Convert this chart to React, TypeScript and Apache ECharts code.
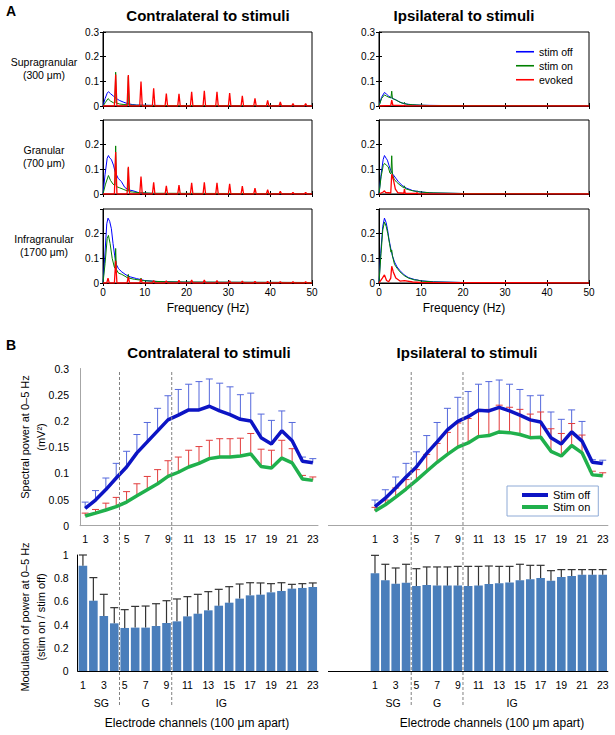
import React, { useEffect, useRef } from 'react';
import * as echarts from 'echarts';

const FONT = '"Liberation Sans", Arial, sans-serif';

// ---------- Panel A: spectra (Hz, power mV^2) ----------
const rowLabels = ['Supragranular\n(300 μm)', 'Granular\n(700 μm)', 'Infragranular\n(1700 μm)'];
const sideTitles = ['Contralateral to stimuli', 'Ipsilateral to stimuli'];
const legendA = ['stim off', 'stim on', 'evoked'];

// contralateral supragranular
const cSupraOff = [[0, 0], [0.5, 0.03], [1, 0.052], [1.3, 0.058], [1.8, 0.05], [2.5, 0.04], [3, 0.033], [3.5, 0.027], [4, 0.022], [5, 0.015], [6, 0.009], [7, 0.006], [8, 0.004], [10, 0.003], [15, 0.002], [50, 0.001]];
const cSupraOn = [[0, 0], [0.6, 0.015], [1.2, 0.03], [1.8, 0.02], [2.5, 0.013], [2.85, 0.012], [3.03, 0.137], [3.2, 0.012], [4, 0.008], [5, 0.006], [5.9, 0.005], [6.06, 0.12], [6.2, 0.004], [8, 0.003], [12, 0.002], [50, 0.001]];
const cSupraEvoked = [[3.03, 0.128], [6.06, 0.126], [9.09, 0.099], [12.12, 0.072], [15.15, 0.05], [18.18, 0.049], [21.21, 0.058], [24.24, 0.062], [27.27, 0.058], [30.3, 0.052], [33.33, 0.041], [36.36, 0.031], [39.39, 0.023], [42.42, 0.016], [45.45, 0.01], [48.48, 0.01]];
// contralateral granular
const cGranOff = [[0, 0], [0.5, 0.08], [1, 0.145], [1.3, 0.156], [1.6, 0.146], [2, 0.14], [2.5, 0.117], [2.9, 0.09], [3.6, 0.064], [4.4, 0.05], [5.2, 0.027], [6, 0.017], [7.2, 0.013], [8.8, 0.004], [12, 0.002], [50, 0.001]];
const cGranOn = [[0, 0], [0.6, 0.04], [1.3, 0.075], [1.8, 0.055], [2.4, 0.04], [2.85, 0.035], [3.03, 0.195], [3.2, 0.03], [4, 0.025], [5, 0.018], [5.9, 0.012], [6.06, 0.105], [6.2, 0.01], [7, 0.008], [9, 0.005], [12, 0.003], [50, 0.001]];
const cGranEvoked = [[3.03, 0.17], [6.06, 0.11], [9.09, 0.071], [12.12, 0.047], [15.15, 0.033], [18.18, 0.036], [21.21, 0.045], [24.24, 0.047], [27.27, 0.045], [30.3, 0.041], [33.33, 0.032], [36.36, 0.024], [39.39, 0.017], [42.42, 0.011], [45.45, 0.007], [48.48, 0.007]];
// contralateral infragranular
const cInfraOff = [[0, 0], [0.4, 0.1], [0.9, 0.24], [1.2, 0.263], [1.6, 0.25], [2, 0.22], [2.4, 0.16], [2.8, 0.11], [3.2, 0.075], [3.7, 0.058], [4.5, 0.045], [5.5, 0.033], [6.5, 0.025], [8, 0.018], [10, 0.01], [13, 0.006], [20, 0.003], [50, 0.002]];
const cInfraOn = [[0, 0], [0.5, 0.08], [1, 0.18], [1.3, 0.193], [1.7, 0.16], [2.2, 0.1], [2.7, 0.065], [2.85, 0.06], [3.03, 0.14], [3.2, 0.055], [3.7, 0.04], [4.5, 0.035], [5.5, 0.025], [5.9, 0.02], [6.06, 0.035], [6.2, 0.02], [7.5, 0.015], [8.9, 0.012], [9.09, 0.02], [9.3, 0.01], [12, 0.007], [15, 0.005], [20, 0.004], [50, 0.002]];
const cInfraEvoked = [[1.2, 0.02], [3.03, 0.09], [6.06, 0.025], [9.09, 0.016], [12.12, 0.01], [15.15, 0.009], [18.18, 0.011], [21.21, 0.012], [24.24, 0.012], [27.27, 0.01], [30.3, 0.009], [33.33, 0.008], [36.36, 0.007], [39.39, 0.006], [42.42, 0.005], [45.45, 0.005], [48.48, 0.005]];
// ipsilateral supragranular
const iSupraOff = [[0, 0], [0.6, 0.035], [1.3, 0.055], [1.8, 0.048], [2.3, 0.04], [3, 0.033], [3.5, 0.029], [4.5, 0.02], [5.5, 0.012], [6.5, 0.008], [8, 0.005], [10, 0.003], [15, 0.002], [50, 0.001]];
const iSupraOn = [[0, 0], [0.6, 0.03], [1.3, 0.045], [1.8, 0.04], [2.4, 0.035], [2.85, 0.033], [3.03, 0.06], [3.2, 0.03], [4, 0.025], [5, 0.015], [5.9, 0.01], [6.06, 0.015], [6.2, 0.009], [7, 0.006], [9, 0.004], [12, 0.002], [50, 0.001]];
const iSupraEvoked = [[0, 0], [2.8, 0.002], [3.03, 0.024], [3.3, 0.003], [5.9, 0.001], [6.06, 0.005], [6.2, 0.001], [50, 0]];
// ipsilateral granular
const iGranOff = [[0, 0], [0.5, 0.08], [1, 0.14], [1.3, 0.156], [1.7, 0.145], [2, 0.137], [2.4, 0.115], [2.8, 0.095], [3.3, 0.08], [4, 0.064], [4.6, 0.05], [5.5, 0.035], [6.5, 0.024], [8, 0.014], [10, 0.008], [13, 0.004], [20, 0.002], [50, 0.001]];
const iGranOn = [[0, 0], [0.5, 0.07], [1, 0.115], [1.3, 0.124], [1.7, 0.118], [2.2, 0.11], [2.6, 0.085], [2.85, 0.082], [3.03, 0.155], [3.2, 0.08], [3.6, 0.06], [4.2, 0.048], [5, 0.036], [5.9, 0.025], [6.06, 0.033], [6.2, 0.022], [7.5, 0.015], [8.9, 0.01], [9.09, 0.013], [9.3, 0.009], [12, 0.005], [20, 0.002], [50, 0.001]];
const iGranEvoked = [[0, 0], [1, 0.008], [1.3, 0.013], [1.6, 0.006], [2.8, 0.004], [3.03, 0.08], [3.4, 0.06], [3.9, 0.02], [4.5, 0.005], [5.9, 0.003], [6.06, 0.02], [6.25, 0.002], [8.9, 0.002], [9.09, 0.006], [9.3, 0.001], [50, 0]];
// ipsilateral infragranular
const iInfraOff = [[0, 0], [0.4, 0.12], [0.9, 0.23], [1.3, 0.263], [1.7, 0.245], [2, 0.22], [2.4, 0.175], [2.8, 0.14], [3.2, 0.11], [3.7, 0.085], [4.3, 0.065], [5, 0.05], [6, 0.033], [7, 0.022], [8.5, 0.014], [10, 0.009], [13, 0.005], [20, 0.002], [50, 0.001]];
const iInfraOn = [[0, 0], [0.4, 0.1], [0.9, 0.215], [1.3, 0.247], [1.7, 0.23], [2.1, 0.2], [2.5, 0.16], [2.85, 0.125], [3.03, 0.134], [3.2, 0.11], [3.7, 0.075], [4.3, 0.06], [5, 0.045], [6, 0.03], [7, 0.02], [8.5, 0.012], [9.09, 0.012], [10, 0.008], [13, 0.004], [20, 0.002], [50, 0.001]];
const iInfraEvoked = [[0, 0], [0.8, 0.02], [1.3, 0.033], [1.8, 0.01], [2.3, 0.005], [2.8, 0.02], [3.03, 0.068], [3.4, 0.045], [4, 0.02], [5, 0.008], [6.06, 0.01], [8, 0.004], [10, 0.002], [50, 0]];

// ---------- Panel B ----------
const channels = [1, 2, 3, 4, 5, 6, 7, 8, 9, 10, 11, 12, 13, 14, 15, 16, 17, 18, 19, 20, 21, 22, 23];
const channelTicks = [1, 3, 5, 7, 9, 11, 13, 15, 17, 19, 21, 23];
const sectionNames = ['SG', 'G', 'IG'];
const sectionCenters = [2.75, 7, 14.25];
const sectionBounds = [4.5, 9.5];
const legendB = ['Stim off', 'Stim on'];

const contraPowerOff = [0.033, 0.049, 0.069, 0.091, 0.112, 0.139, 0.16, 0.181, 0.202, 0.211, 0.221, 0.221, 0.228, 0.219, 0.212, 0.203, 0.2, 0.168, 0.156, 0.181, 0.162, 0.123, 0.12];
const contraPowerOffErr = [0.045, 0.067, 0.091, 0.119, 0.142, 0.174, 0.197, 0.224, 0.248, 0.26, 0.27, 0.275, 0.28, 0.272, 0.265, 0.25, 0.253, 0.213, 0.201, 0.219, 0.197, 0.131, 0.128];
const contraPowerOn = [0.0186, 0.024, 0.03, 0.0365, 0.045, 0.057, 0.0686, 0.08, 0.094, 0.102, 0.112, 0.119, 0.128, 0.131, 0.131, 0.133, 0.137, 0.113, 0.11, 0.129, 0.12, 0.089, 0.0865];
const contraPowerOnErr = [0.024, 0.031, 0.043, 0.054, 0.065, 0.08, 0.094, 0.107, 0.124, 0.131, 0.144, 0.151, 0.163, 0.166, 0.166, 0.167, 0.176, 0.146, 0.144, 0.163, 0.147, 0.096, 0.093];
const ipsiPowerOff = [0.0365, 0.0526, 0.072, 0.093, 0.112, 0.138, 0.16, 0.183, 0.199, 0.208, 0.2205, 0.219, 0.226, 0.219, 0.211, 0.202, 0.198, 0.168, 0.156, 0.179, 0.1615, 0.121, 0.1186];
const ipsiPowerOffErr = [0.049, 0.0686, 0.093, 0.119, 0.141, 0.172, 0.197, 0.224, 0.245, 0.256, 0.27, 0.275, 0.278, 0.27, 0.26, 0.248, 0.249, 0.217, 0.203, 0.221, 0.199, 0.126, 0.125];
const ipsiPowerOn = [0.028, 0.04, 0.0545, 0.07, 0.0865, 0.104, 0.121, 0.136, 0.15, 0.158, 0.17, 0.172, 0.179, 0.1776, 0.174, 0.168, 0.169, 0.142, 0.133, 0.153, 0.139, 0.097, 0.0955];
const ipsiPowerOnErr = [0.035, 0.049, 0.072, 0.088, 0.107, 0.136, 0.157, 0.178, 0.196, 0.2045, 0.219, 0.222, 0.23, 0.226, 0.222, 0.213, 0.217, 0.185, 0.176, 0.195, 0.173, 0.104, 0.101];
const contraMod = [0.908, 0.606, 0.474, 0.411, 0.371, 0.374, 0.374, 0.388, 0.414, 0.428, 0.471, 0.494, 0.523, 0.563, 0.589, 0.624, 0.652, 0.658, 0.678, 0.69, 0.71, 0.716, 0.724];
const contraModErr = [1.0, 0.805, 0.661, 0.546, 0.529, 0.557, 0.56, 0.58, 0.606, 0.621, 0.641, 0.661, 0.684, 0.704, 0.727, 0.75, 0.761, 0.759, 0.753, 0.761, 0.747, 0.753, 0.759];
const ipsiMod = [0.842, 0.782, 0.753, 0.761, 0.733, 0.741, 0.736, 0.736, 0.736, 0.733, 0.736, 0.75, 0.756, 0.764, 0.782, 0.79, 0.802, 0.779, 0.81, 0.819, 0.83, 0.83, 0.83];
const ipsiModErr = [0.997, 0.92, 0.888, 0.92, 0.882, 0.897, 0.897, 0.897, 0.902, 0.902, 0.902, 0.905, 0.902, 0.902, 0.92, 0.911, 0.911, 0.865, 0.874, 0.874, 0.874, 0.874, 0.874];

const SPIKE_HALF = 0.3;
function spikeLine(peaks: number[][]) {
  const out: number[][] = [[0, 0]];
  peaks.forEach(([f, h]) => { out.push([f - SPIKE_HALF, 0], [f, h], [f + SPIKE_HALF, 0]); });
  out.push([50, 0]);
  return out;
}

function errRender(color: string, capHalf: number, width: number) {
  return (params: any, api: any) => {
    const x = api.value(0);
    const p0 = api.coord([x, api.value(1)]);
    const p1 = api.coord([x, api.value(2)]);
    return {
      type: 'group',
      children: [
        { type: 'line', shape: { x1: p0[0], y1: p0[1], x2: p1[0], y2: p1[1] }, style: { stroke: color, lineWidth: width } },
        { type: 'line', shape: { x1: p1[0] - capHalf, y1: p1[1], x2: p1[0] + capHalf, y2: p1[1] }, style: { stroke: color, lineWidth: width } },
      ],
    };
  };
}

export default function App() {
  const ref = useRef<HTMLDivElement>(null);
  useEffect(() => {
    const chart = echarts.init(ref.current!, null, { renderer: 'svg' });
    const grids: any[] = [];
    const xAxis: any[] = [];
    const yAxis: any[] = [];
    const series: any[] = [];
    const txt = { color: '#000', fontFamily: FONT };

    // ----- Panel A -----
    const spectra = [
      [[cSupraOff, cSupraOn, spikeLine(cSupraEvoked)], [iSupraOff, iSupraOn, iSupraEvoked]],
      [[cGranOff, cGranOn, spikeLine(cGranEvoked)], [iGranOff, iGranOn, iGranEvoked]],
      [[cInfraOff, cInfraOn, spikeLine(cInfraEvoked)], [iInfraOff, iInfraOn, iInfraEvoked]],
    ];
    const aLeft = [103, 379];
    const aWidth = [209, 210];
    const aTop = [32, 120, 209];
    const aH = 74;
    const aColors = ['#0000ff', '#008000', '#ff0000'];
    for (let r = 0; r < 3; r++) {
      for (let c = 0; c < 2; c++) {
        const g = grids.length;
        grids.push({ left: aLeft[c], top: aTop[r], width: aWidth[c], height: aH, show: true, borderColor: '#000', borderWidth: 1, backgroundColor: 'transparent', containLabel: false, outerBoundsMode: 'none' });
        const xi = xAxis.length;
        const yi = yAxis.length;
        const common = { type: 'value', gridIndex: g, splitLine: { show: false } };
        xAxis.push({ ...common, min: 0, max: 50, interval: 10, position: 'bottom', axisLine: { show: true, lineStyle: { color: '#000' } }, axisTick: { inside: true, length: 3, lineStyle: { color: '#000' } }, axisLabel: { show: r === 2, fontSize: 10, margin: 4, ...txt } });
        xAxis.push({ ...common, min: 0, max: 50, interval: 10, position: 'top', axisLine: { show: false }, axisTick: { inside: true, length: 3, lineStyle: { color: '#000' } }, axisLabel: { show: false } });
        yAxis.push({ ...common, min: 0, max: 0.3, interval: 0.1, position: 'left', axisLine: { show: true, lineStyle: { color: '#000' } }, axisTick: { inside: true, length: 3, lineStyle: { color: '#000' } }, axisLabel: { show: true, showMaxLabel: r === 0, fontSize: 10, margin: 4, ...txt } });
        yAxis.push({ ...common, min: 0, max: 0.3, interval: 0.1, position: 'right', axisLine: { show: false }, axisTick: { inside: true, length: 3, lineStyle: { color: '#000' } }, axisLabel: { show: false } });
        spectra[r][c].forEach((d, k) => {
          series.push({
            type: 'line', name: legendA[k], xAxisIndex: xi, yAxisIndex: yi, data: d, showSymbol: false, symbol: 'none',
            color: aColors[k], lineStyle: { color: aColors[k], width: k === 2 ? 1.3 : 1 }, z: 2 + k, silent: true,
          });
        });
      }
    }

    // ----- Panel B -----
    const bGrid = [
      { left: 80, top: 368.5, width: 238, height: 157.2, min: 0.5 },
      { left: 328.4, top: 368.5, width: 279.5, height: 157.2, min: -3.5 },
      { left: 77.7, top: 555, width: 240.3, height: 116, min: 0.5 },
      { left: 328.4, top: 555, width: 279.5, height: 116, min: -3.5 },
    ];
    const bX: number[] = [];
    const bY: number[] = [];
    bGrid.forEach((gg, i) => {
      const g = grids.length;
      grids.push({ left: gg.left, top: gg.top, width: gg.width, height: gg.height, containLabel: false, outerBoundsMode: 'none' });
      const isBar = i >= 2;
      const axisColor = isBar ? '#000' : '#a6a6a6';
      bX.push(xAxis.length);
      xAxis.push({
        type: 'value', gridIndex: g, min: gg.min, max: 23.5, position: 'bottom', splitLine: { show: false },
        axisLine: { show: true, onZero: false, lineStyle: { color: axisColor, width: 1 } }, axisTick: { show: false },
        axisLabel: { customValues: channelTicks, fontSize: 10.5, margin: 8, ...txt },
      });
      bY.push(yAxis.length);
      const leftSide = i % 2 === 0;
      yAxis.push({
        type: 'value', gridIndex: g, min: 0, max: isBar ? 1 : 0.3, interval: isBar ? 0.2 : 0.05, splitLine: { show: false },
        axisLine: { show: leftSide, lineStyle: { color: axisColor } }, axisTick: { show: false },
        axisLabel: { show: leftSide, fontSize: 10.5, margin: isBar ? 9 : 11, ...txt },
      });
    });

    const lineSets = [
      [contraPowerOff, contraPowerOffErr, contraPowerOn, contraPowerOnErr],
      [ipsiPowerOff, ipsiPowerOffErr, ipsiPowerOn, ipsiPowerOnErr],
    ];
    const blue = '#0c14c4';
    const green = '#20b04c';
    lineSets.forEach((set, i) => {
      const [off, offErr, on, onErr] = set;
      series.push({ type: 'custom', name: 'off err', xAxisIndex: bX[i], yAxisIndex: bY[i], renderItem: errRender('#5468dc', 3.5, 1), encode: { x: 0, y: [1, 2] }, data: channels.map((c, j) => [c, off[j], offErr[j]]), z: 3, silent: true });
      series.push({ type: 'custom', name: 'on err', xAxisIndex: bX[i], yAxisIndex: bY[i], renderItem: errRender('#e23c3c', 3.5, 1), encode: { x: 0, y: [1, 2] }, data: channels.map((c, j) => [c, on[j], onErr[j]]), z: 4, silent: true });
      series.push({ type: 'line', name: legendB[0], xAxisIndex: bX[i], yAxisIndex: bY[i], data: channels.map((c, j) => [c, off[j]]), showSymbol: false, symbol: 'none', color: blue, lineStyle: { color: blue, width: 3.5 }, z: 5, silent: true });
      series.push({ type: 'line', name: legendB[1], xAxisIndex: bX[i], yAxisIndex: bY[i], data: channels.map((c, j) => [c, on[j]]), showSymbol: false, symbol: 'none', color: green, lineStyle: { color: green, width: 3.5 }, z: 5, silent: true });
    });
    const barSets = [[contraMod, contraModErr], [ipsiMod, ipsiModErr]];
    barSets.forEach((set, i) => {
      const [m, e] = set;
      series.push({ type: 'bar', name: 'modulation', xAxisIndex: bX[2 + i], yAxisIndex: bY[2 + i], data: channels.map((c, j) => [c, m[j]]), barWidth: 8.6, itemStyle: { color: '#4a7ebb' }, z: 2, silent: true });
      series.push({ type: 'custom', name: 'mod err', xAxisIndex: bX[2 + i], yAxisIndex: bY[2 + i], renderItem: errRender('#333333', 4, 1.2), encode: { x: 0, y: [1, 2] }, data: channels.map((c, j) => [c, m[j], e[j]]), z: 3, silent: true });
    });

    chart.setOption({
      animation: false,
      textStyle: { fontFamily: FONT },
      grid: grids,
      xAxis,
      yAxis,
      series,
      legend: [
        {
          data: legendA, orient: 'vertical', left: 516, top: 46, padding: 0, itemWidth: 18, itemHeight: 1.6, itemGap: 2.5, icon: 'rect',
          textStyle: { fontSize: 10.5, lineHeight: 11.5, color: '#000', fontFamily: FONT }, selectedMode: false,
        },
        {
          data: legendB, orient: 'vertical', left: 507, top: 486, padding: [3, 8, 3, 15], itemWidth: 26, itemHeight: 4, itemGap: 0, icon: 'rect',
          borderColor: '#8eaad6', borderWidth: 1, textStyle: { fontSize: 11, lineHeight: 12, color: '#000', fontFamily: FONT }, selectedMode: false,
        },
      ],
    });

    const graphic: any[] = [];
    const text = (s: string, x: number, y: number, size: number, bold = false, align = 'center', rotation = 0, lineHeight?: number) => {
      graphic.push({
        type: 'text', x, y, rotation, silent: true,
        style: { text: s, fill: '#000', font: `${bold ? 'bold ' : ''}${size}px ${FONT}`, textAlign: align, textVerticalAlign: 'middle', lineHeight: lineHeight ?? Math.round(size * 1.25) },
      });
    };
    text('A', 6, 11, 14, true, 'left');
    text('B', 6, 345, 14, true, 'left');
    text(sideTitles[0], 208, 15, 15, true);
    text(sideTitles[1], 464, 15, 15, true);
    text(sideTitles[0], 209, 352, 15, true);
    text(sideTitles[1], 467, 352, 15, true);
    rowLabels.forEach((l, r) => text(l, 44, aTop[r] + aH / 2 - 1, 10.5, false, 'center', 0, 13));
    text('Frequency (Hz)', 208, 308, 12);
    text('Frequency (Hz)', 464, 308, 12);
    text('Spectral power at 0–5 Hz\n(mV²)', 33, 437, 11, false, 'center', Math.PI / 2, 15.5);
    text('Modulation of power at 0–5 Hz\n(stim on / stim off)', 33, 617, 11, false, 'center', Math.PI / 2, 15.5);
    text('Electrode channels (100 μm apart)', 197, 723, 12);
    text('Electrode channels (100 μm apart)', 492, 723, 12);

    [bX[2], bX[3]].forEach((xi) => {
      sectionBounds.forEach((b) => {
        const px = chart.convertToPixel({ xAxisIndex: xi } as any, b) as unknown as number;
        graphic.push({ type: 'line', silent: true, shape: { x1: px, y1: 372, x2: px, y2: 707 }, style: { stroke: '#808080', lineWidth: 1, lineDash: [3, 2] }, z: 10 });
      });
      sectionNames.forEach((n, k) => {
        const px = chart.convertToPixel({ xAxisIndex: xi } as any, sectionCenters[k]) as unknown as number;
        text(n, px, 703, 10.5);
      });
    });
    chart.setOption({ graphic });

    return () => chart.dispose();
  }, []);
  return <div ref={ref} style={{ position: 'fixed', left: 0, top: 0, width: 615, height: 735, background: '#fff' }} />;
}
